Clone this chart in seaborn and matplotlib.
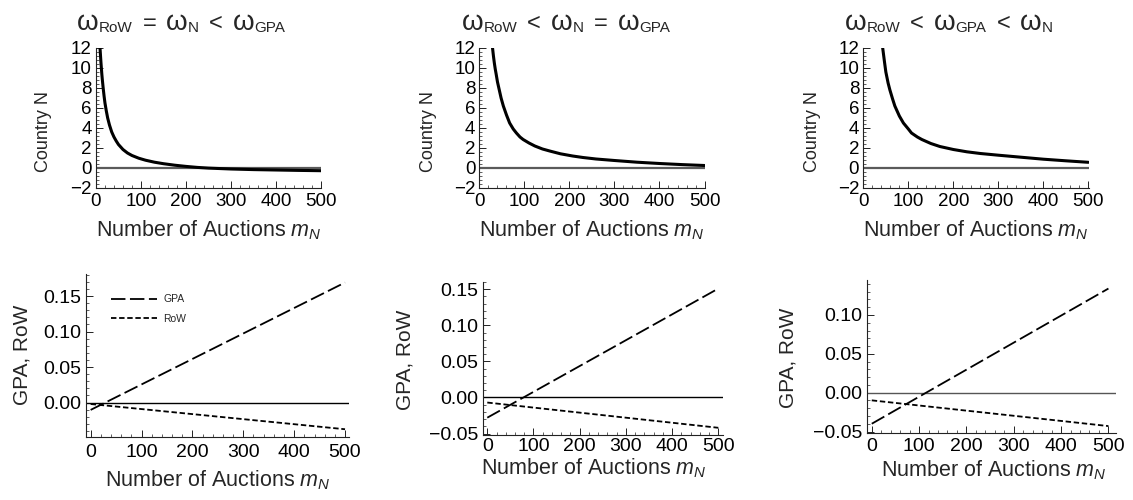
import matplotlib
matplotlib.use("Agg")
import matplotlib.pyplot as plt
import seaborn as sns
from matplotlib.ticker import MultipleLocator, AutoMinorLocator, FuncFormatter

# ---- Country N welfare change vs. number of auctions (top row) ----
m_top_1 = [9, 10, 11, 12, 13, 14, 16, 18, 20, 23, 26, 30, 35, 40, 45, 50, 60, 70, 80, 95, 110,
           130, 150, 175, 200, 225, 250, 300, 350, 400, 450, 500]
country_n_1 = [12.0, 11.3, 10.6, 10.0, 9.4, 8.9, 8.0, 7.2, 6.5, 5.7, 5.0, 4.3, 3.6, 3.1, 2.7, 2.35,
               1.85, 1.5, 1.25, 0.98, 0.78, 0.58, 0.43, 0.28, 0.16, 0.06, -0.01, -0.1, -0.16,
               -0.2, -0.24, -0.27]

m_top_2 = [29, 31, 33, 35, 37, 40, 44, 48, 53, 60, 67, 75, 82, 90, 97, 110, 123, 140, 156, 180,
           207, 230, 259, 300, 350, 400, 450, 500]
country_n_2 = [12.0, 11.2, 10.5, 9.9, 9.4, 8.6, 7.8, 7.0, 6.2, 5.3, 4.5, 3.9, 3.5, 3.1, 2.85, 2.5,
               2.2, 1.9, 1.7, 1.42, 1.2, 1.05, 0.9, 0.75, 0.58, 0.45, 0.34, 0.25]

m_top_3 = [43, 45, 47, 50, 55, 59, 65, 70, 75, 80, 89, 100, 107, 120, 130, 150, 170, 200, 230,
           260, 300, 350, 400, 450, 500]
country_n_3 = [12.0, 11.3, 10.6, 9.6, 8.5, 7.8, 6.9, 6.2, 5.7, 5.2, 4.5, 3.9, 3.5, 3.1, 2.85, 2.45,
               2.15, 1.85, 1.62, 1.45, 1.28, 1.08, 0.88, 0.72, 0.57]

# ---- GPA and RoW welfare change (bottom row, linear in m_N) ----
m_bottom = [0, 500]
gpa_1 = [-0.0103, 0.169]
row_1 = [-0.0020, -0.0375]
gpa_2 = [-0.028, 0.151]
row_2 = [-0.007, -0.042]
gpa_3 = [-0.040, 0.134]
row_3 = [-0.0099, -0.043]

# panel headings: (symbol, subscript) tokens
titles = [
    [("ω", "RoW"), ("=", None), ("ω", "N"), ("<", None), ("ω", "GPA")],
    [("ω", "RoW"), ("<", None), ("ω", "N"), ("=", None), ("ω", "GPA")],
    [("ω", "RoW"), ("<", None), ("ω", "GPA"), ("<", None), ("ω", "N")],
]
xlabel = r"Number of Auctions $m_N$"
top_ylabel = "Country N"
bottom_ylabel = "GPA, RoW"

sns.set_theme(style="ticks")
plt.rcParams["font.family"] = ["Liberation Sans", "DejaVu Sans"]
plt.rcParams["mathtext.fontset"] = "custom"
plt.rcParams["mathtext.rm"] = "Liberation Sans"
plt.rcParams["mathtext.it"] = "Liberation Sans:italic"
plt.rcParams["mathtext.bf"] = "Liberation Sans:bold"
plt.rcParams["axes.unicode_minus"] = True

W, H = 1133, 500
fig = plt.figure(figsize=(W / 100, H / 100), dpi=100)

top_pos = [[0.0847, 0.624, 0.199, 0.28],
           [0.4232, 0.624, 0.199, 0.28],
           [0.762, 0.624, 0.199, 0.28]]
bottom_pos = [[0.0756, 0.1266, 0.2327, 0.3254],
              [0.426, 0.13, 0.2124, 0.3066],
              [0.765, 0.1334, 0.22, 0.3066]]
bottom_ylims = [(-0.048, 0.181), (-0.052, 0.1605), (-0.0523, 0.145)]
bottom_xlims = [(-9.8, 508.4), (-10, 510.8), (-10.6, 516)]
bottom_xpad = [5.5, 2.2, 3.2]
zero_colors = ["black", "black", "#555555"]

title_x_px = [77, 462, 845]
title_base_px = 29.5
top_ylab_x = [-0.2306, -0.228, -0.2275]
bot_ylab = [(-0.243, 0.502), (-0.323, 0.489), (-0.316, 0.49)]
bot_xlab = [(0.5, -0.266), (0.462, -0.217), (0.508, -0.239)]

top_m = [m_top_1, m_top_2, m_top_3]
top_v = [country_n_1, country_n_2, country_n_3]
gpa = [gpa_1, gpa_2, gpa_3]
row = [row_1, row_2, row_3]

minus = "\u2212"
renderer = fig.canvas.get_renderer()


def style_axes(ax, tick_size, xpad):
    sns.despine(ax=ax)
    for s in ("left", "bottom"):
        ax.spines[s].set_linewidth(0.8)
        ax.spines[s].set_color("#222222")
    ax.tick_params(which="major", direction="in", length=5, width=0.7,
                   labelsize=tick_size, colors="#222222", labelcolor="black")
    ax.tick_params(which="minor", direction="in", length=2.5, width=0.6, colors="#444444")
    ax.tick_params(axis="x", which="major", pad=xpad)
    ax.tick_params(axis="y", which="major", pad=3)
    ax.xaxis.set_minor_locator(AutoMinorLocator(5))
    ax.yaxis.set_minor_locator(AutoMinorLocator(5))
    ax.set_facecolor("white")


def draw_heading(x_px, tokens):
    """Lay out a heading of large symbols with small subscripts, left to right."""
    x = x_px
    y = H - title_base_px
    for sym, sub in tokens:
        size = 20 if sym == "ω" else 17
        t = fig.text(x / W, y / H, sym, fontsize=size, ha="left", va="baseline")
        x = t.get_window_extent(renderer=renderer).x1
        if sub is not None:
            s = fig.text(x / W, (y - 3) / H, sub, fontsize=11, ha="left", va="baseline")
            x = s.get_window_extent(renderer=renderer).x1
        x += 10


for i in range(3):
    ax = fig.add_axes(top_pos[i])
    ax.axhline(0, color="#5a5a5a", lw=1.6, zorder=1)
    sns.lineplot(x=top_m[i], y=top_v[i], ax=ax, color="black", lw=2.2, zorder=2)
    ax.set_xlim(0, 501)
    ax.set_ylim(-2, 12)
    ax.xaxis.set_major_locator(MultipleLocator(100))
    ax.yaxis.set_major_locator(MultipleLocator(2))
    style_axes(ax, 13.5, 3.5)
    ax.set_xlabel(xlabel, fontsize=15.5, va="center")
    ax.xaxis.set_label_coords(0.5, -0.30)
    ax.set_ylabel(top_ylabel, fontsize=13, va="center")
    ax.yaxis.set_label_coords(top_ylab_x[i], 0.40)
    draw_heading(title_x_px[i], titles[i])

for i in range(3):
    ax = fig.add_axes(bottom_pos[i])
    ax.axhline(0, color=zero_colors[i], lw=1.0, zorder=1)
    sns.lineplot(x=m_bottom, y=gpa[i], ax=ax, color="black", lw=1.3,
                 linestyle=(0, (8, 2.5)), label="GPA", zorder=2)
    sns.lineplot(x=m_bottom, y=row[i], ax=ax, color="black", lw=1.3,
                 linestyle=(0, (3, 1.5)), label="RoW", zorder=2)
    ax.set_xlim(*bottom_xlims[i])
    ax.set_ylim(*bottom_ylims[i])
    ax.xaxis.set_major_locator(MultipleLocator(100))
    ax.yaxis.set_major_locator(MultipleLocator(0.05))
    ax.yaxis.set_major_formatter(FuncFormatter(lambda v, p: f"{v:.2f}".replace("-", minus)))
    style_axes(ax, 14, bottom_xpad[i])
    ax.set_xlabel(xlabel, fontsize=15.5, va="center")
    ax.xaxis.set_label_coords(*bot_xlab[i])
    ax.set_ylabel(bottom_ylabel, fontsize=15, va="center")
    ax.yaxis.set_label_coords(*bot_ylab[i])
    if i == 0:
        ax.legend(loc="upper left", bbox_to_anchor=(0.096, 0.875), frameon=False,
                  fontsize=7.5, handlelength=4.4, handletextpad=0.6, labelspacing=0.9,
                  borderpad=0, borderaxespad=0)
    else:
        ax.get_legend().remove()

fig.savefig("out.png", dpi=100, facecolor="white")
